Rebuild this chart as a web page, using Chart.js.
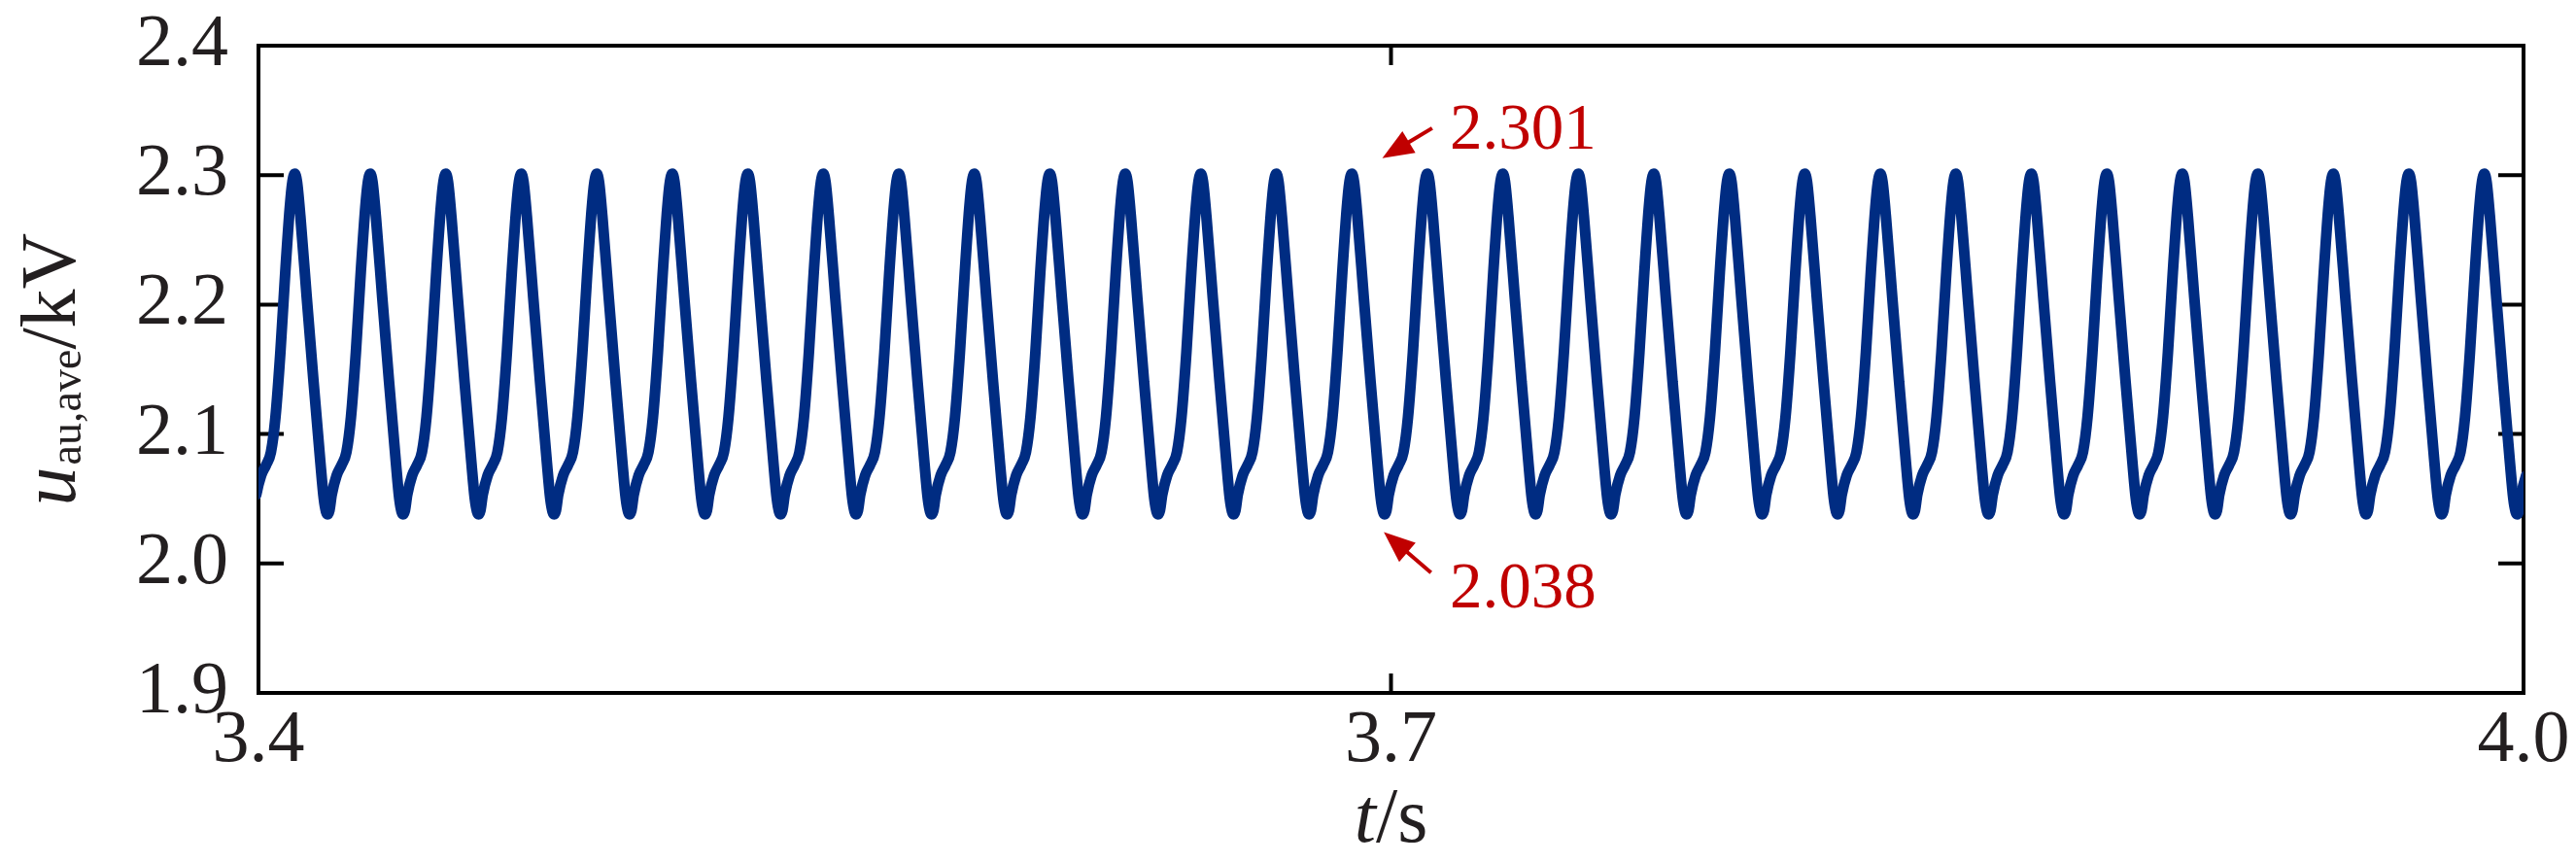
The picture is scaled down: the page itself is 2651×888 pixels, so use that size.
<!DOCTYPE html>
<html>
<head>
<meta charset="utf-8">
<script src="https://cdn.jsdelivr.net/npm/chart.js@4.4.1/dist/chart.umd.min.js"></script>
<style>
  html, body { margin: 0; padding: 0; background: #fff; }
  canvas { display: block; }
</style>
</head>
<body>
<canvas id="chart" width="2651" height="888"></canvas>
<script>
// axis ticks
const xTicks = [3.4, 3.7, 4.0];
const yTicks = [1.9, 2.0, 2.1, 2.2, 2.3, 2.4];

// one 20 ms cycle of u_au,ave (ms after a peak -> kV)
const cycleMs = [0, 0.6, 1.5, 3.2, 5.0, 6.8, 7.7, 8.3, 8.7, 9.2, 9.8, 11.1, 12.4, 13.7, 14.9, 16.2, 17.5, 18.7, 19.4];
const cycleKV = [2.301, 2.295, 2.268, 2.205, 2.140, 2.078, 2.050, 2.040, 2.038, 2.041, 2.053, 2.068, 2.076, 2.086, 2.113, 2.163, 2.225, 2.275, 2.295];

// the waveform just repeats that cycle, first peak a bit after 3.4 s
const firstPeak = 3.4096;
const cycleLen = 0.02;

// red callouts
const notes = [
  { text: '2.301', tip: [3.6977, 2.3131], tail: [3.7109, 2.3363], at: [3.7156, 2.3206] },
  { text: '2.038', tip: [3.6981, 2.0242], tail: [3.7106, 1.9929], at: [3.7156, 1.9662] },
];

const lineColor = '#002C82';
const textColor = '#231F20';
const noteColor = '#C00000';
const serif = '"Liberation Serif", "Times New Roman", serif';

let points = [];
for (let k = -1; k <= 30; k++) {
  cycleMs.forEach((ms, i) => {
    points.push({ x: firstPeak + k * cycleLen + ms / 1000, y: cycleKV[i] });
  });
}

// text with mixed fonts (italic symbol + subscript)
function drawRich(ctx, parts, cx, cy, angle) {
  ctx.save();
  ctx.translate(cx, cy);
  ctx.rotate(angle);
  let total = 0;
  parts.forEach(p => {
    ctx.font = p.font;
    p.w = ctx.measureText(p.text).width + (p.gap || 0);
    total += p.w;
  });
  let px = -total / 2;
  ctx.textAlign = 'left';
  ctx.textBaseline = 'alphabetic';
  ctx.fillStyle = textColor;
  parts.forEach(p => {
    ctx.font = p.font;
    ctx.fillText(p.text, px, p.dy || 0);
    px += p.w;
  });
  ctx.restore();
}

const frameAndLabels = {
  id: 'frameAndLabels',
  beforeDatasetsDraw(chart) {
    const { ctx, chartArea: a, scales: { x, y } } = chart;
    ctx.save();
    ctx.strokeStyle = '#000';
    ctx.lineWidth = 4;
    ctx.strokeRect(a.left, a.top, a.right - a.left, a.bottom - a.top);
    ctx.beginPath();
    yTicks.forEach(v => {
      if (v === y.min || v === y.max) return;
      const py = y.getPixelForValue(v);
      ctx.moveTo(a.left, py); ctx.lineTo(a.left + 26, py);
      ctx.moveTo(a.right, py); ctx.lineTo(a.right - 26, py);
    });
    xTicks.forEach(v => {
      if (v === x.min || v === x.max) return;
      const px = x.getPixelForValue(v);
      ctx.moveTo(px, a.bottom); ctx.lineTo(px, a.bottom - 20);
      ctx.moveTo(px, a.top); ctx.lineTo(px, a.top + 20);
    });
    ctx.stroke();
    ctx.restore();
  },
  afterDraw(chart) {
    const { ctx, chartArea: a, scales: { x, y } } = chart;

    // y title: u_au,ave/kV
    drawRich(ctx, [
      { text: 'u', font: 'italic 80px ' + serif, gap: 2 },
      { text: 'au,ave', font: '46px ' + serif, dy: 6 },
      { text: '/kV', font: '80px ' + serif },
    ], 77, (a.top + a.bottom) / 2, -Math.PI / 2);

    // x title: t/s
    drawRich(ctx, [
      { text: 't', font: 'italic 80px ' + serif },
      { text: '/s', font: '80px ' + serif },
    ], (a.left + a.right) / 2, 866, 0);

    // callouts
    ctx.save();
    ctx.strokeStyle = noteColor;
    ctx.fillStyle = noteColor;
    ctx.lineWidth = 4;
    notes.forEach(n => {
      const tx = x.getPixelForValue(n.tip[0]), ty = y.getPixelForValue(n.tip[1]);
      const sx = x.getPixelForValue(n.tail[0]), sy = y.getPixelForValue(n.tail[1]);
      const ang = Math.atan2(ty - sy, tx - sx);
      const head = 32, half = 13;
      const bx = tx - head * Math.cos(ang), by = ty - head * Math.sin(ang);
      ctx.beginPath();
      ctx.moveTo(sx, sy);
      ctx.lineTo(bx + 4 * Math.cos(ang), by + 4 * Math.sin(ang));
      ctx.stroke();
      ctx.beginPath();
      ctx.moveTo(tx, ty);
      ctx.lineTo(bx - half * Math.sin(ang), by + half * Math.cos(ang));
      ctx.lineTo(bx + half * Math.sin(ang), by - half * Math.cos(ang));
      ctx.closePath();
      ctx.fill();

      ctx.font = '67px ' + serif;
      ctx.textAlign = 'left';
      ctx.textBaseline = 'alphabetic';
      ctx.fillText(n.text, x.getPixelForValue(n.at[0]), y.getPixelForValue(n.at[1]));
    });
    ctx.restore();
  }
};

const tickFont = { family: serif, size: 76 };

new Chart(document.getElementById('chart'), {
  type: 'line',
  data: {
    datasets: [{
      data: points,
      borderColor: lineColor,
      borderWidth: 11,
      pointRadius: 0,
      cubicInterpolationMode: 'monotone',
      borderCapStyle: 'round',
      borderJoinStyle: 'round',
      fill: false,
    }],
  },
  options: {
    responsive: false,
    animation: false,
    devicePixelRatio: 1,
    layout: { padding: { top: 47, right: 54, left: 0, bottom: 0 } },
    plugins: {
      legend: { display: false },
      tooltip: { enabled: false },
    },
    scales: {
      x: {
        type: 'linear',
        min: 3.4,
        max: 4.0,
        afterBuildTicks: (s) => { s.ticks = xTicks.map(v => ({ value: v })); },
        afterFit: (s) => { s.height = 175; s.paddingLeft = 0; s.paddingRight = 0; },
        grid: { display: false, drawTicks: false },
        border: { display: false },
        ticks: {
          callback: (v) => v.toFixed(1),
          font: tickFont,
          color: textColor,
          padding: 4,
          maxRotation: 0,
          autoSkip: false,
        },
      },
      y: {
        type: 'linear',
        min: 1.9,
        max: 2.4,
        afterBuildTicks: (s) => { s.ticks = yTicks.map(v => ({ value: v })); },
        afterFit: (s) => { s.width = 266; s.paddingTop = 0; s.paddingBottom = 0; },
        grid: { display: false, drawTicks: false },
        border: { display: false },
        ticks: {
          callback: (v) => v.toFixed(1),
          font: tickFont,
          color: textColor,
          padding: 31,
        },
      },
    },
  },
  plugins: [frameAndLabels],
});
</script>
</body>
</html>
